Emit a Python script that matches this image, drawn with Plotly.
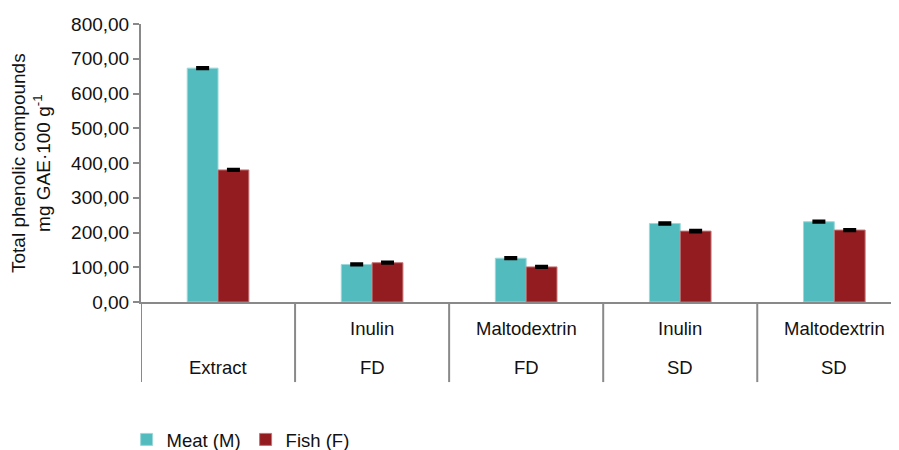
import plotly.graph_objects as go

categories_top = ["", "Inulin", "Maltodextrin", "Inulin", "Maltodextrin"]
categories_bottom = ["Extract", "FD", "FD", "SD", "SD"]
meat = [673, 108, 126, 226, 231]
fish = [380, 113, 101, 204, 207]
meat_err = [2.5, 2.5, 2.5, 3, 2.5]
fish_err = [2.5, 2.5, 2.5, 3, 2.5]
y_ticks = [0, 100, 200, 300, 400, 500, 600, 700, 800]
y_title = "Total phenolic compounds<br>mg GAE·100 g<sup>-1</sup>"

xs = list(range(len(categories_bottom)))
AXIS = "#898989"
FONT = "Liberation Sans, Arial, sans-serif"
FS = 18.5
FS_Y = 19

fig = go.Figure()
fig.add_bar(x=xs, y=meat, name="Meat (M)", marker=dict(color="#52BBBE", line=dict(color="#9AD8DA", width=1)),
            error_y=dict(type="data", array=meat_err, color="black", thickness=2.5, width=6.5))
fig.add_bar(x=xs, y=fish, name="Fish (F)", marker=dict(color="#921C1F", line=dict(color="#C07476", width=1)),
            error_y=dict(type="data", array=fish_err, color="black", thickness=2.5, width=6.5))

shapes = []
for i in range(len(categories_bottom)):
    shapes.append(dict(type="line", xref="x", yref="paper", x0=i - 0.5, x1=i - 0.5, y0=0, y1=-0.288,
                       line=dict(color=AXIS, width=2)))
annotations = []
for i, (t, b) in enumerate(zip(categories_top, categories_bottom)):
    if t:
        annotations.append(dict(x=i, y=-0.097, xref="x", yref="paper", text=t, showarrow=False,
                                font=dict(size=FS, color="#111", family=FONT), yanchor="middle"))
    annotations.append(dict(x=i, y=-0.237, xref="x", yref="paper", text=b, showarrow=False,
                            font=dict(size=FS, color="#111", family=FONT), yanchor="middle"))
annotations.append(dict(x=-0.1451, y=0.5, xref="paper", yref="paper", text=y_title, showarrow=False,
                        textangle=-90, xanchor="center", yanchor="middle",
                        font=dict(size=FS_Y, color="#111", family=FONT)))

# page body has an 8px margin; figure is sized to fill the remaining window
fig.update_layout(
    width=891, height=442,
    margin=dict(l=133, r=0, t=16, b=148, autoexpand=False),
    paper_bgcolor="white", plot_bgcolor="white",
    font=dict(family=FONT, size=FS, color="#111"),
    separators=",.",
    barmode="group", bargap=0.6, bargroupgap=0,
    showlegend=True,
    legend=dict(orientation="h", x=-0.019, y=-0.496, xanchor="left", yanchor="middle",
                font=dict(size=FS), itemwidth=30, traceorder="normal"),
    shapes=shapes, annotations=annotations,
)
fig.update_xaxes(range=[-0.5, 4.42], showticklabels=False, showline=True, linecolor=AXIS, linewidth=2,
                 showgrid=False, zeroline=False, ticks="", automargin=False)
fig.update_yaxes(range=[0, 800], tickvals=y_ticks, tickformat=".2f", showline=True, linecolor=AXIS,
                 linewidth=2, ticks="outside", ticklen=6, tickwidth=2, tickcolor=AXIS, showgrid=False,
                 zeroline=False, tickfont=dict(size=FS_Y), automargin=False)
fig.write_html("out.html")
